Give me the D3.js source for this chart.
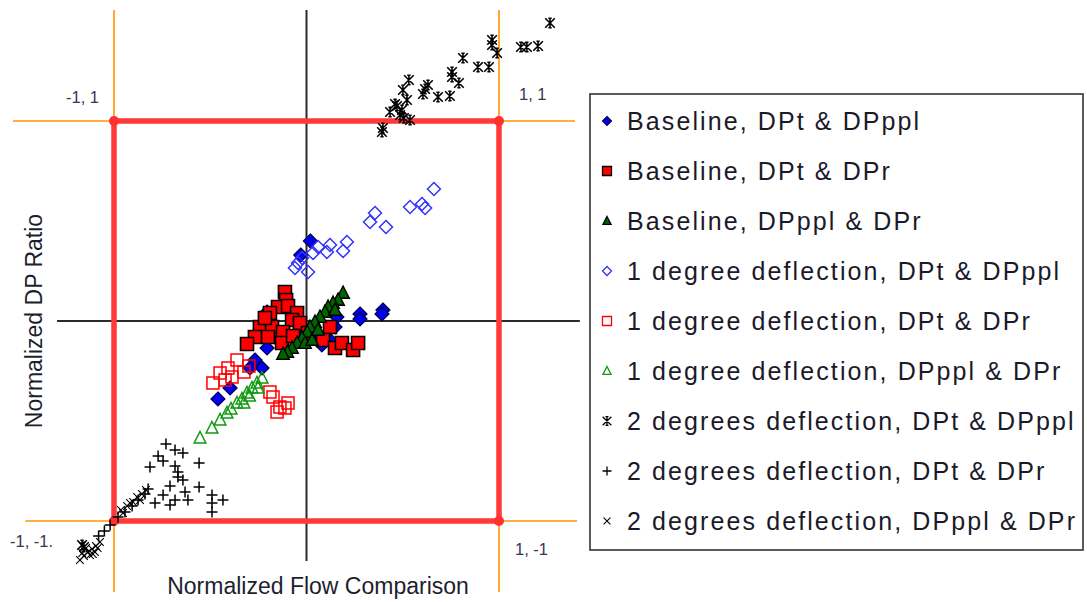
<!DOCTYPE html>
<html>
<head>
<meta charset="utf-8">
<script src="https://cdn.jsdelivr.net/npm/d3@7"></script>
<style>
  html, body { margin: 0; padding: 0; background: #fff; }
  svg { display: block; font-family: "Liberation Sans", Arial, sans-serif; }
</style>
</head>
<body>
<svg id="chart" width="1087" height="602"></svg>
<script>
// ---- data: [normalized flow comparison, normalized DP ratio] ----
const baselineTppl = [
  [0.02, 0.40], [-0.03, 0.33], [0.278, 0.035], [0.278, 0.01], [0.397, 0.055], [0.392, 0.035],
  [0.158, 0.02], [0.148, -0.03], [0.122, -0.095], [-0.205, 0.045], [-0.148, -0.095],
  [-0.205, -0.135], [-0.268, -0.195], [-0.231, -0.235], [-0.294, -0.235], [-0.397, -0.335],
  [-0.46, -0.39], [-0.034, -0.045], [0.044, -0.07], [0.08, -0.12]
];
const baselineTr = [
  [-0.112, 0.145], [-0.106, 0.105], [-0.148, 0.07], [-0.096, 0.075], [-0.19, 0.04], [-0.049, 0.04],
  [-0.075, 0.005], [-0.242, -0.03], [-0.179, -0.03], [-0.122, -0.055], [-0.034, -0.01],
  [-0.2, -0.08], [-0.268, -0.08], [-0.309, -0.115], [-0.127, -0.11], [-0.07, -0.075],
  [0.122, -0.03], [0.086, -0.095], [0.148, -0.135], [0.184, -0.11], [0.242, -0.145],
  [0.268, -0.11], [0.008, -0.06], [-0.216, 0.015]
];
const baselinePplR = [
  [0.19, 0.14], [0.164, 0.105], [0.138, 0.09], [0.112, 0.07], [0.096, 0.045], [0.07, 0.02],
  [0.044, -0.005], [0.018, -0.03], [0.003, -0.055], [-0.023, -0.085], [-0.049, -0.11],
  [-0.075, -0.135], [-0.1, -0.155], [-0.122, -0.165], [-0.008, -0.11], [0.029, -0.095],
  [0.06, -0.045], [0.148, 0.055]
];
const deg1Tppl = [
  [0.662, 0.66], [0.538, 0.57], [0.616, 0.565], [0.6, 0.585], [0.356, 0.54], [0.33, 0.495],
  [0.413, 0.47], [0.21, 0.395], [0.19, 0.35], [0.122, 0.38], [0.106, 0.345], [0.06, 0.37],
  [0.034, 0.34], [-0.044, 0.29], [0.008, 0.245], [-0.06, 0.265], [-0.023, 0.315]
];
const deg1Tr = [
  [-0.361, -0.195], [-0.408, -0.235], [-0.449, -0.26], [-0.486, -0.31], [-0.387, -0.28],
  [-0.325, -0.255], [-0.423, -0.295], [-0.19, -0.355], [-0.174, -0.38], [-0.138, -0.43],
  [-0.096, -0.41], [-0.112, -0.435], [-0.153, -0.455], [-0.299, -0.225]
];
const deg1PplR = [
  [-0.553, -0.585], [-0.491, -0.535], [-0.449, -0.495], [-0.413, -0.46], [-0.392, -0.44],
  [-0.361, -0.41], [-0.335, -0.39], [-0.309, -0.36], [-0.283, -0.335], [-0.257, -0.31],
  [-0.231, -0.285], [-0.296, -0.375], [-0.325, -0.41], [-0.252, -0.335]
];
const deg2Tppl = [
  [1.265, 1.49], [1.203, 1.375], [1.145, 1.37], [1.114, 1.37], [0.964, 1.405], [0.964, 1.38],
  [0.99, 1.34], [0.813, 1.315], [0.891, 1.27], [0.948, 1.27], [0.756, 1.245], [0.756, 1.22],
  [0.792, 1.19], [0.745, 1.125], [0.683, 1.12], [0.631, 1.18], [0.616, 1.16], [0.605, 1.135],
  [0.532, 1.205], [0.501, 1.155], [0.522, 1.105], [0.47, 1.075], [0.496, 1.055], [0.434, 1.045],
  [0.486, 1.03], [0.538, 1.005], [0.506, 1.015], [0.397, 0.965], [0.392, 0.945], [0.46, 1.085],
  [-1.166, -1.12], [-1.156, -1.13]
];
const deg2Tr = [
  [-0.73, -0.615], [-0.683, -0.645], [-0.642, -0.66], [-0.771, -0.675], [-0.745, -0.7],
  [-0.813, -0.73], [-0.558, -0.71], [-0.683, -0.725], [-0.668, -0.755], [-0.668, -0.78],
  [-0.642, -0.795], [-0.709, -0.825], [-0.558, -0.83], [-0.745, -0.87], [-0.683, -0.895],
  [-0.631, -0.855], [-0.616, -0.895], [-0.787, -0.91], [-0.709, -0.92], [-0.491, -0.87],
  [-0.491, -0.91], [-0.434, -0.895], [-0.491, -0.955], [-0.823, -0.84],
  [-0.979, -0.98], [-0.943, -0.955], [-0.906, -0.925], [-0.875, -0.895], [-0.839, -0.865],
  [-1.02, -1.02], [-1.05, -1.05], [-1.08, -1.075]
];
const deg2PplR = [
  [-1.177, -1.195], [-1.156, -1.175], [-1.135, -1.155], [-1.114, -1.14], [-1.094, -1.125],
  [-1.073, -1.105], [-1.145, -1.135], [-1.125, -1.17], [-1.099, -1.155], [-1.165, -1.16],
  [-1.11, -1.165], [-1.085, -1.135], [-0.964, -0.945],
  [-0.932, -0.925], [-0.901, -0.905], [-0.88, -0.88], [-0.855, -0.865], [-0.834, -0.845],
  [-0.917, -0.91], [-0.953, -0.96], [-0.865, -0.895]
];

const seriesNames = [
  "Baseline, DPt & DPppl",
  "Baseline, DPt & DPr",
  "Baseline, DPppl & DPr",
  "1 degree deflection, DPt & DPppl",
  "1 degree deflection, DPt & DPr",
  "1 degree deflection, DPppl & DPr",
  "2 degrees deflection, DPt & DPppl",
  "2 degrees deflection, DPt & DPr",
  "2 degrees deflection, DPppl & DPr"
];
const seriesValues = [baselineTppl, baselineTr, baselinePplR, deg1Tppl, deg1Tr, deg1PplR, deg2Tppl, deg2Tr, deg2PplR];

// corner points of the unit box and their labels
const corners = [[-1, 1], [1, 1], [1, -1], [-1, -1]];
const cornerLabels = ["-1, 1", "1, 1", "1, -1", "-1, -1."];

// ---- marker styles per series ----
const styles = [
  { shape: "diamond", r: 7, fill: "#0000ee", stroke: "#00004d", sw: 1.2 },
  { shape: "square", r: 6.5, fill: "#ff0000", stroke: "#000", sw: 1.6 },
  { shape: "triangle", r: 7, fill: "#006400", stroke: "#000", sw: 1.4 },
  { shape: "diamond", r: 6.5, fill: "none", stroke: "#3333ff", sw: 1.5 },
  { shape: "square", r: 6, fill: "none", stroke: "#ff0000", sw: 1.5 },
  { shape: "triangle", r: 6.5, fill: "none", stroke: "#119911", sw: 1.5 },
  { shape: "star", r: 4.8, fill: "none", stroke: "#000", sw: 1.6 },
  { shape: "plus", r: 5.5, fill: "none", stroke: "#000", sw: 1.5 },
  { shape: "cross", r: 3.8, fill: "none", stroke: "#000", sw: 1.1 }
];

function markerPath(shape, r) {
  switch (shape) {
    case "diamond": return `M0,${-r}L${r},0L0,${r}L${-r},0Z`;
    case "square": return `M${-r},${-r}H${r}V${r}H${-r}Z`;
    case "triangle": return `M0,${-r}L${r * 0.9},${r * 0.75}L${-r * 0.9},${r * 0.75}Z`;
    case "plus": return `M${-r},0H${r}M0,${-r}V${r}`;
    case "cross": return `M${-r},${-r}L${r},${r}M${-r},${r}L${r},${-r}`;
    case "star": return `M${-r},${-r}L${r},${r}M${-r},${r}L${r},${-r}M0,${-r}V${r}` +
      `M${-r * 0.35},${-r}H${r * 0.35}M${-r * 0.35},${r}H${r * 0.35}`;
  }
}

// ---- scales ----
const x = d3.scaleLinear().domain([-1, 1]).range([114, 499]);
const y = d3.scaleLinear().domain([-1, 1]).range([521, 121]);

const svg = d3.select("#chart");

// reference lines (data units)
const orangeLines = [
  [[-1, -1.355], [-1, 1.555]],
  [[1, -1.355], [1, 1.555]],
  [[-1.525, 1], [1.395, 1]],
  [[-1.46, -1], [1.405, -1]]
];
const axisLines = [
  [[0, -1.2], [0, 1.555]],
  [[-1.296, 0], [1.42, 0]]
];
const line = d3.line().x(d => x(d[0])).y(d => y(d[1]));

svg.append("g").selectAll("path").data(orangeLines).join("path")
  .attr("d", line).attr("fill", "none").attr("stroke", "#ff9500").attr("stroke-width", 1.6);

svg.append("g").selectAll("path").data(axisLines).join("path")
  .attr("d", line).attr("fill", "none").attr("stroke", "#2a2a2a").attr("stroke-width", 2);

// the unit box
svg.append("path")
  .attr("d", line(corners.concat([corners[0]])))
  .attr("fill", "none").attr("stroke", "#ff3838").attr("stroke-width", 5.5);
svg.append("g").selectAll("circle").data(corners).join("circle")
  .attr("cx", d => x(d[0])).attr("cy", d => y(d[1])).attr("r", 5)
  .attr("fill", "#ff3030");

// corner labels
const labelOffsets = [[-48, -18], [20, -21], [16, 34], [-104, 26]];
svg.append("g").selectAll("text").data(corners).join("text")
  .attr("x", (d, i) => x(d[0]) + labelOffsets[i][0])
  .attr("y", (d, i) => y(d[1]) + labelOffsets[i][1])
  .attr("font-size", 16.5).attr("fill", "#3a3450")
  .text((d, i) => cornerLabels[i]);

// scatter points
seriesValues.forEach((vals, i) => {
  const s = styles[i];
  svg.append("g").selectAll("path").data(vals).join("path")
    .attr("transform", d => `translate(${x(d[0])},${y(d[1])})`)
    .attr("d", markerPath(s.shape, s.r))
    .attr("fill", s.fill).attr("stroke", s.stroke).attr("stroke-width", s.sw)
    .attr("stroke-linejoin", "miter");
});

// axis titles
svg.append("text")
  .attr("x", 318).attr("y", 594)
  .attr("text-anchor", "middle").attr("font-size", 23).attr("fill", "#1e1e30")
  .text("Normalized Flow Comparison");
svg.append("text")
  .attr("transform", `translate(42,${y(0)}) rotate(-90)`)
  .attr("text-anchor", "middle").attr("font-size", 23).attr("fill", "#1e1e30")
  .text("Normalized DP Ratio");

// legend
const legend = svg.append("g");
legend.append("rect")
  .attr("x", 590).attr("y", 94).attr("width", 493).attr("height", 456)
  .attr("fill", "#fff").attr("stroke", "#333").attr("stroke-width", 1.6);
const rowY = d3.scalePoint().domain(d3.range(seriesNames.length)).range([121, 521]);
const items = legend.selectAll("g.item").data(seriesNames).join("g")
  .attr("class", "item")
  .attr("transform", (d, i) => `translate(0,${rowY(i)})`);
items.append("path")
  .attr("transform", "translate(607,0)")
  .attr("d", (d, i) => markerPath(styles[i].shape, Math.min(styles[i].r, 5) * 0.9))
  .attr("fill", (d, i) => styles[i].fill)
  .attr("stroke", (d, i) => styles[i].stroke)
  .attr("stroke-width", (d, i) => Math.min(styles[i].sw, 1.3));
items.append("text")
  .attr("x", 627).attr("y", 9)
  .attr("font-size", 25).attr("letter-spacing", 2.1).attr("fill", "#1a1a2a")
  .text(d => d);
</script>
</body>
</html>
